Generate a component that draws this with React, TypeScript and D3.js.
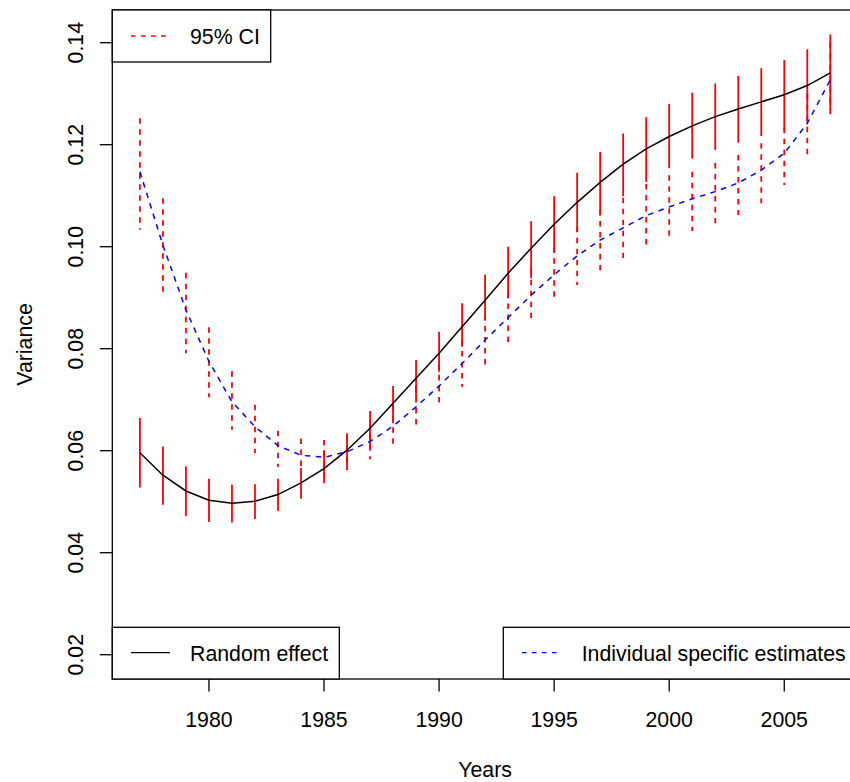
import React from "react";
import * as d3 from "d3";

const years = [1977, 1978, 1979, 1980, 1981, 1982, 1983, 1984, 1985, 1986, 1987, 1988, 1989, 1990, 1991, 1992, 1993, 1994, 1995, 1996, 1997, 1998, 1999, 2000, 2001, 2002, 2003, 2004, 2005, 2006, 2007];

const randomEffect = [0.0596, 0.0552, 0.0521, 0.0503, 0.0497, 0.0501, 0.0514, 0.0537, 0.0565, 0.0601, 0.0644, 0.0693, 0.0742, 0.0791, 0.0843, 0.0895, 0.0948, 0.0997, 0.1044, 0.1087, 0.1126, 0.1162, 0.1192, 0.1216, 0.1237, 0.1255, 0.1270, 0.1284, 0.1298, 0.1316, 0.1341];
const reUpper = [0.0664, 0.0608, 0.0569, 0.0545, 0.0533, 0.0534, 0.0545, 0.0566, 0.0601, 0.0634, 0.0678, 0.0727, 0.0778, 0.0833, 0.0889, 0.0945, 0.1000, 0.1050, 0.1099, 0.1145, 0.1186, 0.1222, 0.1254, 0.1280, 0.1302, 0.1320, 0.1335, 0.1350, 0.1366, 0.1387, 0.1416];
const reLower = [0.0528, 0.0494, 0.0472, 0.0460, 0.0459, 0.0466, 0.0482, 0.0506, 0.0536, 0.0562, 0.0605, 0.0654, 0.0704, 0.0755, 0.0804, 0.0856, 0.0899, 0.0938, 0.0988, 0.1029, 0.1062, 0.1099, 0.1127, 0.1154, 0.1173, 0.1190, 0.1204, 0.1217, 0.1229, 0.1245, 0.1268];

const individual = [0.1147, 0.1003, 0.0876, 0.0775, 0.0696, 0.0647, 0.0610, 0.0591, 0.0587, 0.0598, 0.0618, 0.0648, 0.0686, 0.0727, 0.0771, 0.0817, 0.0861, 0.0905, 0.0945, 0.0982, 0.1013, 0.1037, 0.1061, 0.1078, 0.1094, 0.1108, 0.1125, 0.1150, 0.1183, 0.1242, 0.1327];
const indUpper = [0.1252, 0.1095, 0.0949, 0.0842, 0.0756, 0.0690, 0.0639, 0.0624, 0.0621, 0.0631, 0.0654, 0.0689, 0.0727, 0.0770, 0.0817, 0.0866, 0.0910, 0.0957, 0.0999, 0.1039, 0.1072, 0.1096, 0.1123, 0.1140, 0.1147, 0.1164, 0.1180, 0.1203, 0.1233, 0.1300, 0.1400];
const indLower = [0.1033, 0.0909, 0.0791, 0.0705, 0.0641, 0.0595, 0.0568, 0.0555, 0.0552, 0.0563, 0.0583, 0.0611, 0.0645, 0.0684, 0.0725, 0.0769, 0.0812, 0.0853, 0.0891, 0.0925, 0.0954, 0.0978, 0.0999, 0.1016, 0.1031, 0.1046, 0.1062, 0.1085, 0.1121, 0.1176, 0.1254];

const xTicks = [1980, 1985, 1990, 1995, 2000, 2005];
const yTicks = [0.02, 0.04, 0.06, 0.08, 0.10, 0.12, 0.14];

const legendCI = "95% CI";
const legendRE = "Random effect";
const legendInd = "Individual specific estimates";
const xTitle = "Years";
const yTitle = "Variance";

const W = 850;
const H = 782;
const L = 112.3;
const R = 857.9;
const T = 10;
const B = 679;
const FONT = "'Liberation Sans', Arial, Helvetica, sans-serif";
const FS = 21.3;

export default function App() {
  const x = d3.scaleLinear().domain([1975.8, 2008.2]).range([L, R]);
  const y = d3.scaleLinear().domain([0.14 - (T - 42.7) / 5100, 0.14 - (B - 42.7) / 5100]).range([T, B]);

  const line = (vals: number[]) =>
    d3.line<number>().x((_, i) => x(years[i])).y((d) => y(d))(vals) || "";

  const dash = "5.5,5.5";

  return (
    <svg width={W} height={H} style={{ position: "absolute", left: 0, top: 0, background: "#fff" }} fontFamily={FONT}>
      <rect x={0} y={0} width={W} height={H} fill="#fff" />
      {years.map((yr, i) => (
        <line key={"id" + yr} x1={x(yr)} x2={x(yr)} y1={y(indUpper[i])} y2={y(indLower[i])} stroke="#ff0000" strokeWidth={1.8} strokeDasharray={dash} />
      ))}
      {years.map((yr, i) => (
        <line key={"re" + yr} x1={x(yr)} x2={x(yr)} y1={y(reUpper[i])} y2={y(reLower[i])} stroke="#ff0000" strokeWidth={1.8} />
      ))}
      <path d={line(randomEffect)} fill="none" stroke="#000" strokeWidth={1.5} />
      <path d={line(individual)} fill="none" stroke="#0000ff" strokeWidth={1.5} strokeDasharray={dash} />

      <rect x={L} y={T} width={R - L} height={B - T} fill="none" stroke="#000" strokeWidth={1.3} />

      {xTicks.map((t) => (
        <g key={"xt" + t}>
          <line x1={x(t)} x2={x(t)} y1={B} y2={B + 12.5} stroke="#000" strokeWidth={1.3} />
          <text x={x(t)} y={726.7} textAnchor="middle" fontSize={FS} fill="#000">{t}</text>
        </g>
      ))}
      {yTicks.map((t) => (
        <g key={"yt" + t}>
          <line x1={L - 12.5} x2={L} y1={y(t)} y2={y(t)} stroke="#000" strokeWidth={1.3} />
          <text transform={`translate(83,${y(t)}) rotate(-90)`} textAnchor="middle" fontSize={FS} fill="#000">{t.toFixed(2)}</text>
        </g>
      ))}
      <text x={(L + R) / 2} y={776.5} textAnchor="middle" fontSize={FS} fill="#000">{xTitle}</text>
      <text transform={`translate(31.5,${(T + B) / 2}) rotate(-90)`} textAnchor="middle" fontSize={FS} fill="#000">{yTitle}</text>

      <rect x={L} y={T} width={270.7 - L} height={52} fill="#fff" stroke="#000" strokeWidth={1.3} />
      <line x1={131} x2={169} y1={36} y2={36} stroke="#ff0000" strokeWidth={1.5} strokeDasharray="4.5,5.5" />
      <text x={190} y={44} fontSize={FS} fill="#000">{legendCI}</text>

      <rect x={L} y={627.3} width={339.3 - L} height={B - 627.3} fill="#fff" stroke="#000" strokeWidth={1.3} />
      <line x1={131} x2={170} y1={652.7} y2={652.7} stroke="#000" strokeWidth={1.3} />
      <text x={190} y={660.5} fontSize={FS} fill="#000">{legendRE}</text>

      <rect x={503.3} y={627.3} width={R - 503.3 + 20} height={B - 627.3} fill="#fff" stroke="#000" strokeWidth={1.3} />
      <line x1={522} x2={560} y1={652.7} y2={652.7} stroke="#0000ff" strokeWidth={1.3} strokeDasharray="4.5,5.5" />
      <text x={581.7} y={660.5} fontSize={FS} fill="#000">{legendInd}</text>
    </svg>
  );
}
